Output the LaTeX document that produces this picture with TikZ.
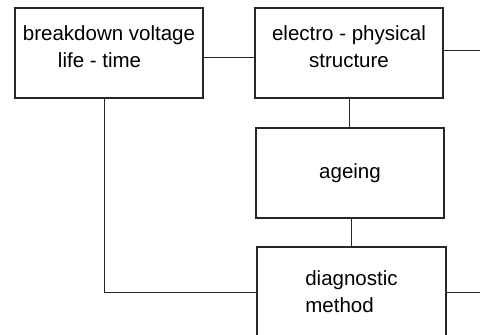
\documentclass[tikz,border=0pt]{standalone}
\usepackage{fontspec}
\setmainfont{Liberation Sans}
\begin{document}
\begin{tikzpicture}[x=1pt, y=-1pt,
    box/.style={draw=black!85, line width=1.3pt, minimum width=188pt, minimum height=90pt,
      inner sep=0pt, font=\fontsize{20.5}{27}\selectfont},
    wire/.style={draw=black!85, line width=0.9pt}]
        \useasboundingbox (0, 0) rectangle (480, 335);
        \clip (0, 0) rectangle (480, 335);
        \node[box, align=left] (A1) at (109, 53) {breakdown voltage\\\hspace*{35pt}life - time\\[-15pt]};
        \node[box, align=center] (A2) at (349, 53) {electro - physical\\structure\\[-15pt]};
        \node[box, align=center] (A3) at (350, 173) {ageing};
        \node[box, minimum width=189pt, align=left] (A4) at (351.5, 292) {diagnostic\\method};
        \coordinate (E1) at (480, 50);
        \coordinate (E2) at (480, 292);
        \draw[wire] ([yshift=-4pt]A1.east) -- ([yshift=-4pt]A2.west);
        \draw[wire] (A2.east |- E1) -- (E1);
        \draw[wire] (A2.south) -- (A2.south |- A3.north);
        \draw[wire] (A4.north) -- (A4.north |- A3.south);
        \draw[wire] (A4.west) -| ([xshift=-5pt]A1.south);
        \draw[wire] (A4.east) -- (E2);
      \end{tikzpicture}
\end{document}
